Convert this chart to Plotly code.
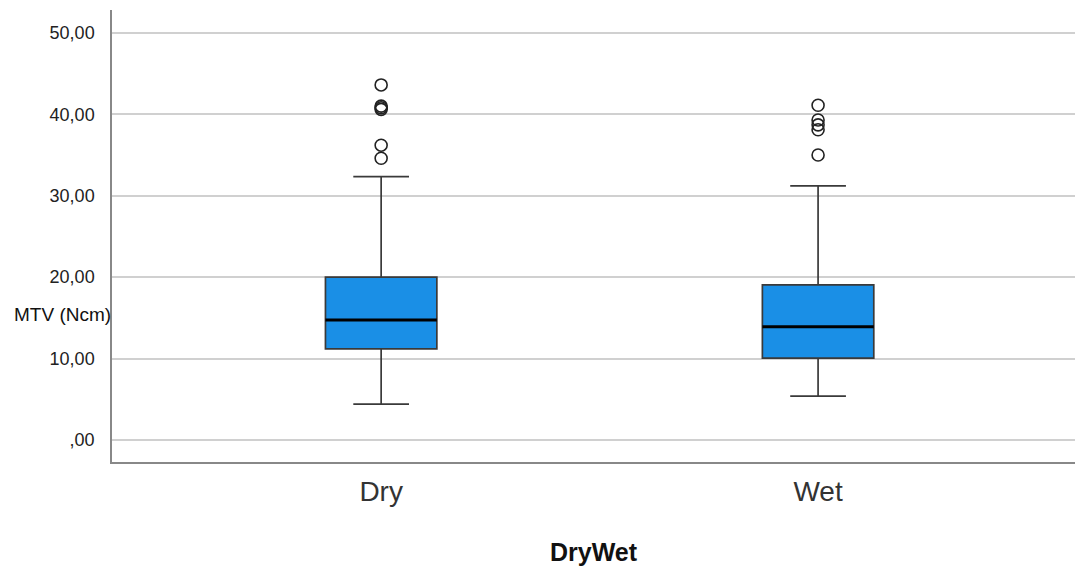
import plotly.graph_objects as go

categories = ["Dry", "Wet"]
q1 = [11.2, 10.05]
median = [14.75, 13.9]
q3 = [20.0, 19.05]
lower_whisker = [4.4, 5.4]
upper_whisker = [32.35, 31.2]
outliers_dry = [43.6, 41.0, 40.8, 40.6, 36.2, 34.6]
outliers_wet = [41.1, 39.3, 38.7, 38.1, 35.0]
ytick_vals = [0, 10, 20, 30, 40, 50]
ytick_text = [",00", "10,00", "20,00", "30,00", "40,00", "50,00"]

box_w = 0.255
fig = go.Figure()
xs = [0, 1]
fig.add_trace(go.Box(
    x=xs, q1=q1, median=median, q3=q3,
    lowerfence=lower_whisker, upperfence=upper_whisker,
    width=box_w, whiskerwidth=0.5,
    fillcolor="#1a8fe6", line=dict(color="#3a3a3a", width=1.7),
    boxpoints=False, showlegend=False, hoverinfo="skip",
))
# thick median lines
for i, m in enumerate(median):
    fig.add_trace(go.Scatter(
        x=[xs[i] - box_w / 2, xs[i] + box_w / 2], y=[m, m], mode="lines",
        line=dict(color="#000000", width=3), showlegend=False, hoverinfo="skip",
    ))
for i, outs in enumerate([outliers_dry, outliers_wet]):
    fig.add_trace(go.Scatter(
        x=[xs[i]] * len(outs), y=outs, mode="markers",
        marker=dict(symbol="circle-open", size=12, color="#222222", line=dict(width=1.6)),
        showlegend=False, hoverinfo="skip",
    ))

fig.update_layout(
    width=1075, height=567,
    margin=dict(l=112, r=0, t=10, b=105),
    paper_bgcolor="white", plot_bgcolor="white",
    font=dict(family="Liberation Sans, Arial, sans-serif", color="#222222"),
    xaxis=dict(
        range=[-0.616, 1.588], tickvals=xs, ticktext=categories,
        tickfont=dict(size=28, color="#333333"), showgrid=False, zeroline=False,
        showline=True, linecolor="#888888", linewidth=1.5, ticks="",
        ticklabelstandoff=4,
        title=dict(text="<b>DryWet</b>", font=dict(size=25, color="#111111"), standoff=37),
    ),
    yaxis=dict(
        range=[-2.7, 52.8], tickvals=ytick_vals, ticktext=ytick_text,
        tickfont=dict(size=18, color="#222222"), showgrid=True, gridcolor="#d0d0d0",
        gridwidth=1.5, zeroline=False, showline=True, linecolor="#888888", linewidth=1.5,
        ticks="", ticklabelstandoff=12,
    ),
    annotations=[dict(
        text="MTV (Ncm)", xref="paper", yref="y", x=0, y=15.4, xanchor="right",
        yanchor="middle", showarrow=False, font=dict(size=19, color="#111111"), xshift=1,
    )],
)
fig.write_html("out.html", config={"displayModeBar": False},
               post_script="document.body.style.margin='0';document.body.style.overflow='hidden';")
